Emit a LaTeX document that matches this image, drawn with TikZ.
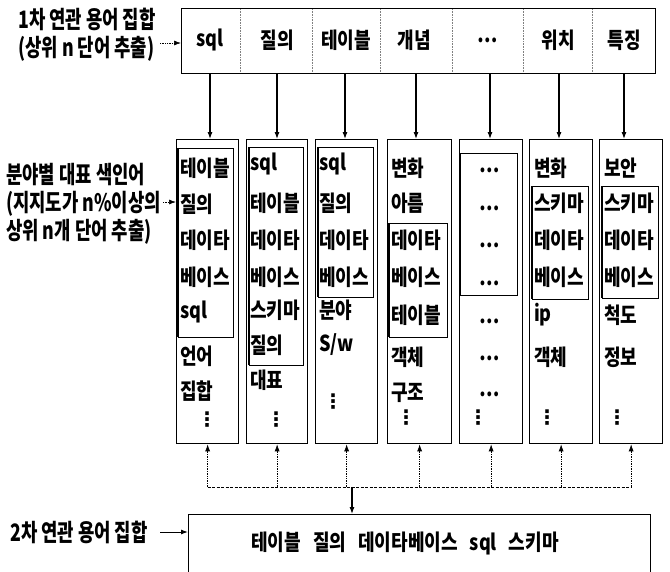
\documentclass[tikz,border=0pt]{standalone}
\usepackage{fontspec}
\newfontfamily\kr[FakeStretch=0.82]{Noto Sans CJK KR}
\newfontfamily\krl[FakeStretch=0.74]{Noto Sans CJK KR}
\newfontfamily\dv{DejaVu Sans}
\usetikzlibrary{arrows.meta}
\tikzset{
  lbl/.style={font=\krl\bfseries\fontsize{24}{28}\selectfont, align=left, inner sep=0pt, anchor=west},
  cell/.style={font=\kr\bfseries\fontsize{22}{24}\selectfont, inner sep=0pt, anchor=west},
  colbox/.style={draw, line width=1.3pt, inner sep=0pt, anchor=north west},
  innerbox/.style={draw, line width=1pt},
  topword/.style={font=\kr\bfseries\fontsize{22}{24}\selectfont, inner sep=0pt},
  vdot/.style={font=\dv\bfseries\fontsize{20}{22}\selectfont, inner sep=0pt},
  divider/.style={densely dotted, gray, line width=0.6pt},
  solidarrow/.style={line width=1.1pt, -{Latex[length=7pt,width=5pt]}},
  dotarrow/.style={densely dotted, line width=0.7pt, -{Latex[length=7pt,width=5pt]}},
  dotline/.style={line width=0.7pt, dash pattern=on 3pt off 1.5pt},
}
\begin{document}
\begin{tikzpicture}[x=1pt,y=-1pt]
\useasboundingbox (0,0) rectangle (670,571);
\fill[white] (0,0) rectangle (670,571);

% top box
\node[draw, line width=1.3pt, minimum width=474pt, minimum height=65pt, inner sep=0pt, anchor=north west] (topbox) at (181,8) {};
\foreach \x in {240,312,380,452,523,592}
  \draw[divider] (\x,9) -- (\x,72);
\node[topword] (t1) at (210,40) {sql};
\node[topword] (t2) at (277,40) {질의};
\node[topword] (t3) at (346,40) {테이블};
\node[topword] (t4) at (414,40) {개념};
\node[topword] (t5) at (488,40) {…};
\node[topword] (t6) at (558,40) {위치};
\node[topword] (t7) at (624,40) {특징};

% labels
\node[lbl] (l1) at (18,35) {1차 연관 용어 집합\\(상위 n 단어 추출)};
\node[lbl] (l2) at (6,204) {분야별 대표 색인어\\(지지도가 n\%이상의\\상위 n개 단어 추출)};
\node[lbl] (l3) at (10,532) {2차 연관 용어 집합};
\coordinate (a1) at (160,43);
\coordinate (a2) at (163,202);
\coordinate (a3) at (160,532);

% column boxes
\node[colbox, minimum width=62pt, minimum height=304pt] (c1) at (176,139) {};
\node[colbox, minimum width=61pt, minimum height=304pt] (c2) at (246,139) {};
\node[colbox, minimum width=62pt, minimum height=304pt] (c3) at (315,139) {};
\node[colbox, minimum width=64pt, minimum height=304pt] (c4) at (387,139) {};
\node[colbox, minimum width=63pt, minimum height=304pt] (c5) at (459,139) {};
\node[colbox, minimum width=63pt, minimum height=304pt] (c6) at (529,139) {};
\node[colbox, minimum width=63pt, minimum height=304pt] (c7) at (599,139) {};

% inner boxes
\foreach \a/\b/\c/\d in {178/148/233/337, 249/147/303/365, 318/147/373/297, 389/223/447/337, 460/153/517/295, 532/186/588/299, 602/186/658/298}{
  \draw[innerbox] (\a,\b) rectangle (\c,\d);
  \draw[line width=2.6pt] (\a,\b) -- (\a,\d);
}

% column 1
\node[cell] at (180,168) {테이블};
\node[cell] at (180,204) {질의};
\node[cell] at (180,240) {데이타};
\node[cell] at (180,277) {베이스};
\node[cell] at (180,312) {sql};
\node[cell] at (180,356) {언어};
\node[cell] at (180,391) {집합};
\node[vdot] at (207,420) {⋮};
% column 2
\node[cell] at (250,164) {sql};
\node[cell] at (250,203) {테이블};
\node[cell] at (250,240) {데이타};
\node[cell] at (250,277) {베이스};
\node[cell] at (250,310) {스키마};
\node[cell] at (250,345) {질의};
\node[cell] at (250,380) {대표};
\node[vdot] at (276,420) {⋮};
% column 3
\node[cell] at (319,164) {sql};
\node[cell] at (319,203) {질의};
\node[cell] at (319,240) {데이타};
\node[cell] at (319,277) {베이스};
\node[cell] at (319,310) {분야};
\node[cell] at (319,345) {S/w};
\node[vdot] at (333,402) {⋮};
% column 4
\node[cell] at (391,168) {변화};
\node[cell] at (391,203) {아름};
\node[cell] at (391,240) {데이타};
\node[cell] at (391,277) {베이스};
\node[cell] at (391,315) {테이블};
\node[cell] at (391,357) {객체};
\node[cell] at (391,393) {구조};
\node[vdot] at (406,418) {⋮};
% column 5
\foreach \y in {170,208,245,283,321,358,394}
  \node[topword] at (490,\y) {…};
\node[vdot] at (478,418) {⋮};
% column 6
\node[cell] at (534,168) {변화};
\node[cell] at (534,203) {스키마};
\node[cell] at (534,240) {데이타};
\node[cell] at (534,277) {베이스};
\node[cell] at (534,315) {ip};
\node[cell] at (534,357) {객체};
\node[vdot] at (547,418) {⋮};
% column 7
\node[cell] at (604,168) {보안};
\node[cell] at (604,203) {스키마};
\node[cell] at (604,240) {데이타};
\node[cell] at (604,277) {베이스};
\node[cell] at (604,315) {척도};
\node[cell] at (604,357) {정보};
\node[vdot] at (617,418) {⋮};

% arrows top -> columns
\foreach \i/\x in {1/210,2/277,3/345,4/416,5/490,6/559,7/624}
  \draw[solidarrow] (\x,73) -- (\x,139);

% label arrows
\draw[dotarrow] (a1) -- (a1 -| topbox.west);
\draw[dotarrow] (a2) -- (a2 -| c1.west);

% bottom
\node[draw, line width=1.3pt, minimum width=462pt, minimum height=70pt, inner sep=0pt, anchor=north west] (bot) at (188,514) {};
\node[font=\kr\bfseries\fontsize{22}{24}\selectfont, inner sep=0pt] (bt) at (405,543) {테이블\hspace{12pt}질의\hspace{12pt}데이타베이스\hspace{12pt}sql\hspace{12pt}스키마};
\draw[line width=1pt, -{Latex[length=7pt,width=5pt]}] (a3) -- (a3 -| bot.west);

\coordinate (hl) at (0,487);
\draw[dotline] (hl -| c1) -- (hl -| c7);
\foreach \i in {1,...,7}
  \draw[dotarrow] (hl -| c\i) -- (c\i.south);
\coordinate (split) at (352,487);
\draw[solidarrow] (split) -- (split |- bot.north);
\end{tikzpicture}
\end{document}
